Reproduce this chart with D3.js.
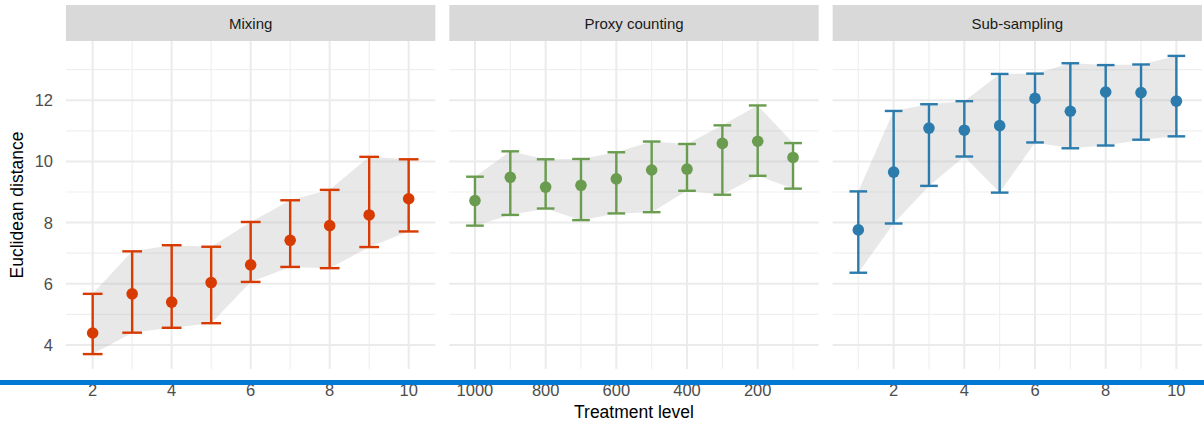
<!DOCTYPE html>
<html>
<head>
<meta charset="utf-8">
<script src="https://cdn.jsdelivr.net/npm/d3@7"></script>
<style>
  body { margin: 0; background: #fff; }
  svg { display: block; font-family: "Liberation Sans", Arial, sans-serif; }
</style>
</head>
<body>
<div id="chart"></div>
<script>
// values
var mixLevels = [2, 3, 4, 5, 6, 7, 8, 9, 10]
var mixMean   = [4.39, 5.67, 5.40, 6.04, 6.62, 7.42, 7.90, 8.25, 8.78]
var mixLower  = [3.70, 4.40, 4.56, 4.71, 6.06, 6.55, 6.51, 7.20, 7.71]
var mixUpper  = [5.67, 7.06, 7.26, 7.21, 8.02, 8.73, 9.07, 10.15, 10.07]

var proxyLevels = [1000, 900, 800, 700, 600, 500, 400, 300, 200, 100]
var proxyMean   = [8.72, 9.48, 9.16, 9.22, 9.43, 9.72, 9.75, 10.59, 10.66, 10.13]
var proxyLower  = [7.90, 8.25, 8.46, 8.08, 8.30, 8.34, 9.04, 8.91, 9.53, 9.11]
var proxyUpper  = [9.50, 10.33, 10.07, 10.08, 10.30, 10.65, 10.57, 11.18, 11.83, 10.60]

var subLevels = [1, 2, 3, 4, 5, 6, 7, 8, 9, 10]
var subMean   = [7.76, 9.65, 11.09, 11.02, 11.17, 12.06, 11.64, 12.27, 12.25, 11.97]
var subLower  = [6.36, 7.97, 9.20, 10.16, 8.98, 10.62, 10.43, 10.52, 10.71, 10.82]
var subUpper  = [9.02, 11.65, 11.87, 11.97, 12.86, 12.87, 13.21, 13.15, 13.17, 13.45]

var facetNames = ['Mixing', 'Proxy counting', 'Sub-sampling']
var facetColors = ['#D83B01', '#6A9C4F', '#2B7BAD']

var mixTicks = [2, 4, 6, 8, 10], mixMinor = [3, 5, 7, 9]
var proxyTicks = [1000, 800, 600, 400, 200], proxyMinor = [900, 700, 500, 300, 100]
var subTicks = [2, 4, 6, 8, 10], subMinor = [1, 3, 5, 7, 9]
var yTicks = [4, 6, 8, 10, 12], yMinor = [5, 7, 9, 11, 13]

function rows(levels, mean, lower, upper){
    return levels.map(function(d, i){
        return { level: d, mean: mean[i], lower: lower[i], upper: upper[i] }
    })
}

var facets = [
    { name: facetNames[0], color: facetColors[0], data: rows(mixLevels, mixMean, mixLower, mixUpper), step: 1, ticks: mixTicks, minor: mixMinor, reverse: false },
    { name: facetNames[1], color: facetColors[1], data: rows(proxyLevels, proxyMean, proxyLower, proxyUpper), step: 100, ticks: proxyTicks, minor: proxyMinor, reverse: true },
    { name: facetNames[2], color: facetColors[2], data: rows(subLevels, subMean, subLower, subUpper), step: 1, ticks: subTicks, minor: subMinor, reverse: false }
]

var W = 1204, H = 430
var panelLeft = 66, panelTop = 41, panelBottom = 369, stripTop = 5
var gap = 14
var panelW = (1202 - panelLeft - 2 * gap) / 3

var svg = d3.select('#chart').append('svg')
    .attr('width', W)
    .attr('height', H)

// shared y scale, 5% expansion like ggplot
var allLow = d3.min(facets, function(f){ return d3.min(f.data, function(d){ return d.lower }) })
var allHigh = d3.max(facets, function(f){ return d3.max(f.data, function(d){ return d.upper }) })
var yPad = (allHigh - allLow) * 0.05
var y = d3.scaleLinear()
    .domain([allLow - yPad, allHigh + yPad])
    .range([panelBottom, panelTop])

facets.forEach(function(f, k){
    var left = panelLeft + k * (panelW + gap)
    var capW = f.step * 0.5
    var lo = d3.min(f.data, function(d){ return d.level }) - capW / 2
    var hi = d3.max(f.data, function(d){ return d.level }) + capW / 2
    var pad = (hi - lo) * 0.05
    var x = d3.scaleLinear()
        .domain(f.reverse ? [hi + pad, lo - pad] : [lo - pad, hi + pad])
        .range([left, left + panelW])

    var g = svg.append('g')

    // strip
    g.append('rect')
        .attr('x', left)
        .attr('y', stripTop)
        .attr('width', panelW)
        .attr('height', panelTop - stripTop)
        .attr('fill', '#D9D9D9')
    g.append('text')
        .attr('x', left + panelW / 2)
        .attr('y', (stripTop + panelTop) / 2)
        .attr('text-anchor', 'middle')
        .attr('dominant-baseline', 'central')
        .attr('fill', '#1A1A1A')
        .attr('font-size', '15px')
        .text(f.name)

    // grid
    g.selectAll('.hminor').data(yMinor).enter().append('line')
        .attr('x1', left).attr('x2', left + panelW)
        .attr('y1', function(d){ return y(d) }).attr('y2', function(d){ return y(d) })
        .attr('stroke', '#F0F0F0').attr('stroke-width', 1.2)
    g.selectAll('.vminor').data(f.minor).enter().append('line')
        .attr('x1', function(d){ return x(d) }).attr('x2', function(d){ return x(d) })
        .attr('y1', panelTop).attr('y2', panelBottom)
        .attr('stroke', '#F0F0F0').attr('stroke-width', 1.2)
    g.selectAll('.hmajor').data(yTicks).enter().append('line')
        .attr('x1', left).attr('x2', left + panelW)
        .attr('y1', function(d){ return y(d) }).attr('y2', function(d){ return y(d) })
        .attr('stroke', '#EBEBEB').attr('stroke-width', 2)
    g.selectAll('.vmajor').data(f.ticks).enter().append('line')
        .attr('x1', function(d){ return x(d) }).attr('x2', function(d){ return x(d) })
        .attr('y1', panelTop).attr('y2', panelBottom)
        .attr('stroke', '#EBEBEB').attr('stroke-width', 2)

    // ribbon between the caps
    var area = d3.area()
        .x(function(d){ return x(d.level) })
        .y0(function(d){ return y(d.lower) })
        .y1(function(d){ return y(d.upper) })
    g.append('path')
        .datum(f.data)
        .attr('d', area)
        .attr('fill', '#B3B3B3')
        .attr('fill-opacity', 0.3)

    // error bars
    var bars = g.selectAll('.bar').data(f.data).enter().append('g')
        .attr('stroke', f.color)
        .attr('stroke-width', 2.4)
    bars.append('line')
        .attr('x1', function(d){ return x(d.level) }).attr('x2', function(d){ return x(d.level) })
        .attr('y1', function(d){ return y(d.lower) }).attr('y2', function(d){ return y(d.upper) })
    bars.append('line')
        .attr('x1', function(d){ return x(d.level - capW / 2) }).attr('x2', function(d){ return x(d.level + capW / 2) })
        .attr('y1', function(d){ return y(d.upper) }).attr('y2', function(d){ return y(d.upper) })
    bars.append('line')
        .attr('x1', function(d){ return x(d.level - capW / 2) }).attr('x2', function(d){ return x(d.level + capW / 2) })
        .attr('y1', function(d){ return y(d.lower) }).attr('y2', function(d){ return y(d.lower) })

    g.selectAll('.pt').data(f.data).enter().append('circle')
        .attr('cx', function(d){ return x(d.level) })
        .attr('cy', function(d){ return y(d.mean) })
        .attr('r', 5.8)
        .attr('fill', f.color)

    // x tick labels
    g.selectAll('.xt').data(f.ticks).enter().append('text')
        .attr('x', function(d){ return x(d) })
        .attr('y', 390)
        .attr('text-anchor', 'middle')
        .attr('dominant-baseline', 'central')
        .attr('fill', '#4D4D4D')
        .attr('font-size', '16.5px')
        .text(function(d){ return d })
})

// y tick labels
svg.selectAll('.yt').data(yTicks).enter().append('text')
    .attr('x', 53)
    .attr('y', function(d){ return y(d) })
    .attr('text-anchor', 'end')
    .attr('dominant-baseline', 'central')
    .attr('fill', '#4D4D4D')
    .attr('font-size', '16.5px')
    .text(function(d){ return d })

// axis titles
svg.append('text')
    .attr('transform', 'translate(17,' + (panelTop + panelBottom) / 2 + ') rotate(-90)')
    .attr('text-anchor', 'middle')
    .attr('dominant-baseline', 'central')
    .attr('fill', '#000')
    .attr('font-size', '17.5px')
    .text('Euclidean distance')

svg.append('text')
    .attr('x', panelLeft + (1202 - panelLeft) / 2)
    .attr('y', 412)
    .attr('text-anchor', 'middle')
    .attr('dominant-baseline', 'central')
    .attr('fill', '#000')
    .attr('font-size', '17.5px')
    .text('Treatment level')

// blue rule across the bottom
svg.append('rect')
    .attr('x', 0)
    .attr('y', 380)
    .attr('width', W)
    .attr('height', 5)
    .attr('fill', '#0078D4')
</script>
</body>
</html>
